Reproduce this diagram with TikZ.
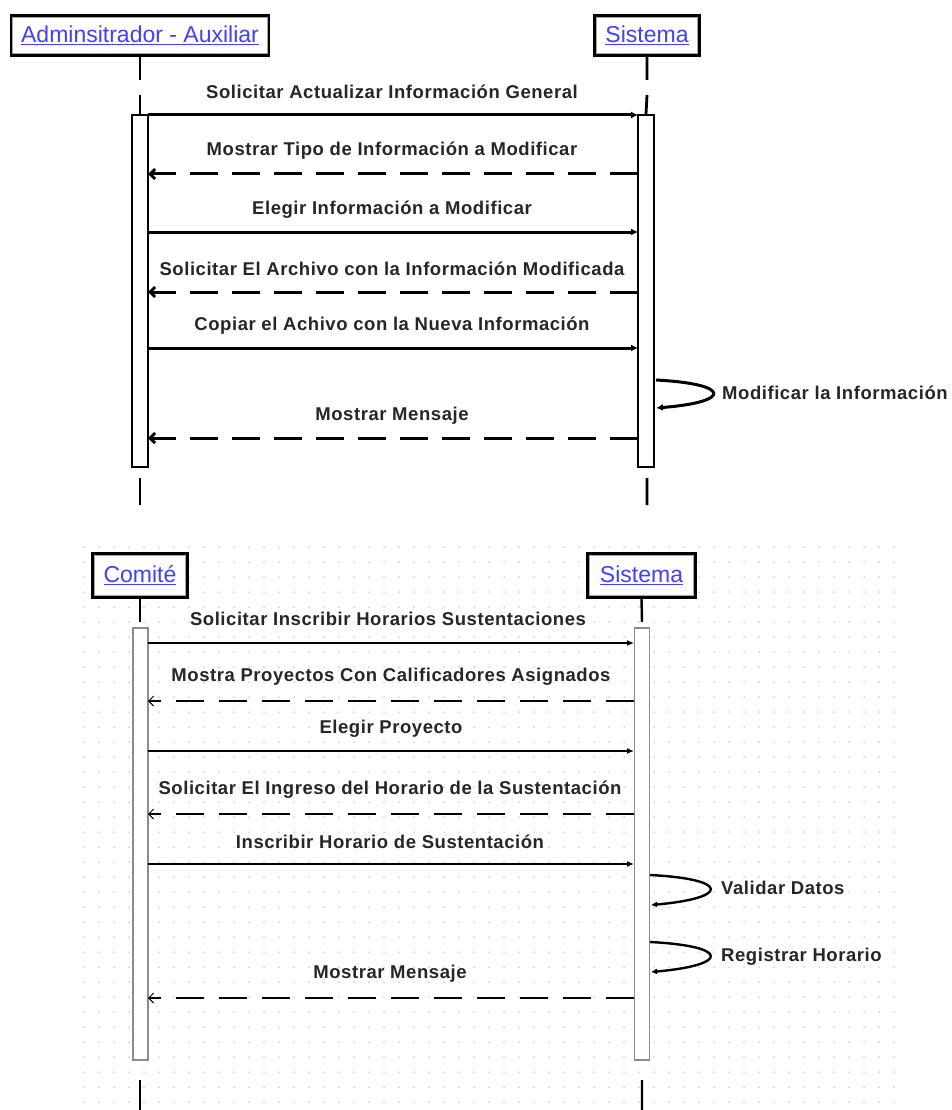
\documentclass[tikz,border=0pt]{standalone}
\usepackage{fontspec}
\setmainfont{Liberation Sans}
\newfontfamily\lblfont[LetterSpace=3]{Liberation Sans}
\usetikzlibrary{arrows.meta}

\begin{document}
\begin{tikzpicture}[x=1pt,y=-1pt,
  actor/.style={draw=black, line width=2.8pt, fill=white, inner sep=0pt,
    font=\fontsize{23}{26}\selectfont, text=blue!75!white},
  innerframe/.style={draw=black!35, line width=1pt},
  actbar/.style={draw=black, line width=1.8pt, fill=white, inner sep=0pt, minimum width=16pt},
  actbarlight/.style={draw=black!45, line width=1.3pt, fill=white, inner sep=0pt, minimum width=15pt},
  msglabel/.style={font=\lblfont\bfseries\fontsize{18.5}{21}\selectfont, text=black!85, inner sep=0pt},
  callA/.style={line width=3pt, -{Latex[length=7pt,width=7pt]}},
  replyA/.style={line width=3pt, dash pattern=on 28pt off 14pt, -{Straight Barb[length=5pt,width=10pt]}},
  callB/.style={line width=1.8pt, -{Latex[length=7pt,width=6pt]}},
  replyB/.style={line width=2.4pt, dash pattern=on 28pt off 15pt, -{Straight Barb[length=5pt,width=10pt,line width=0.9pt]}},
  lifeline/.style={line width=2.8pt},
  selfA/.style={line width=3pt, -{Latex[length=7pt,width=7pt]}},
  selfB/.style={line width=2.4pt, -{Latex[length=6pt,width=6pt]}},
]
\useasboundingbox (0,0) rectangle (951,1110);
\fill[white] (0,0) rectangle (951,1110);

% ---------- dotted grid behind the second diagram ----------
\foreach \i in {0,...,54}{
  \foreach \j in {0,...,37}{
    \fill[black!30] (84+\i*15, 547+\j*15) circle (0.75pt);
  }
}

% ================= first diagram =================
\node[actor, minimum width=258pt, minimum height=40pt] (admin) at (140,35.5) {\underline{Adminsitrador - Auxiliar}};
\node[actor, minimum width=105pt, minimum height=40pt] (sisA) at (647,35.5) {\underline{Sistema}};
\draw[innerframe] ([shift={(3,3)}]admin.north west) rectangle ([shift={(-3,-3)}]admin.south east);
\draw[innerframe] ([shift={(3,3)}]sisA.north west) rectangle ([shift={(-3,-3)}]sisA.south east);

\node[actbar, minimum height=352pt] (barAL) at (140,291) {};
\node[actbar, minimum height=352pt] (barAR) at (646,291) {};

% lifelines
\coordinate (aL1) at (140,80);  \coordinate (aL2) at (140,95);
\coordinate (aL3) at (140,478); \coordinate (aL4) at (140,505);
\coordinate (aR1) at (647,80);  \coordinate (aR2) at (647,95);
\coordinate (aR3) at (647,478); \coordinate (aR4) at (647,505);
\draw[lifeline] (admin.south) -- (aL1) (aL2) -- (barAL.north) (aL3) -- (aL4);
\draw[lifeline] (sisA.south) -- (aR1) (aR2) -- (barAR.north) (aR3) -- (aR4);

% messages
\foreach \n/\yy in {1/115,2/174,3/232,4/292,5/348,7/438}{
  \coordinate (aL\n) at (148,\yy);
  \coordinate (aR\n) at (638,\yy);
}
\draw[callA]  (aL1) -- (aR1);
\draw[replyA] (aR2) -- (aL2);
\draw[callA]  (aL3) -- (aR3);
\draw[replyA] (aR4) -- (aL4);
\draw[callA]  (aL5) -- (aR5);
\draw[replyA] (aR7) -- (aL7);

\node[msglabel] (tA1) at (392,92)  {Solicitar Actualizar Información General};
\node[msglabel] (tA2) at (392,151) {Mostrar Tipo de Información a Modificar};
\node[msglabel] (tA3) at (392,210) {Elegir Información a Modificar};
\node[msglabel] (tA4) at (392,269) {Solicitar El Archivo con la Información Modificada};
\node[msglabel] (tA5) at (392,326) {Copiar el Achivo con la Nueva Información};
\node[msglabel] (tA7) at (392,416) {Mostrar Mensaje};

% self message
\coordinate (aS1) at (656,380);
\coordinate (aS2) at (656,408);
\draw[selfA] (aS1) .. controls (732,384) and (732,402) .. (aS2);
\node[msglabel, anchor=west] (tA6) at (722,393) {Modificar la Información};

% ================= second diagram =================
\node[actor, minimum width=95pt, minimum height=44pt] (comite) at (140,575.5) {\underline{Comité}};
\node[actor, minimum width=108pt, minimum height=44pt] (sisB) at (641.5,575.5) {\underline{Sistema}};
\draw[innerframe] ([shift={(3,3)}]comite.north west) rectangle ([shift={(-3,-3)}]comite.south east);
\draw[innerframe] ([shift={(3,3)}]sisB.north west) rectangle ([shift={(-3,-3)}]sisB.south east);

\node[actbarlight, minimum height=432pt] (barBL) at (140.5,844) {};
\node[actbarlight, minimum height=432pt] (barBR) at (642,844) {};

\coordinate (bL1) at (140,622);  \coordinate (bL3) at (140,1080); \coordinate (bL4) at (140,1110);
\coordinate (bR1) at (642,622);  \coordinate (bR3) at (642,1080); \coordinate (bR4) at (642,1110);
\draw[lifeline, line width=2.4pt] (comite.south) -- (bL1) (bL3) -- (bL4);
\draw[lifeline, line width=2.4pt] (sisB.south) -- (bR1) (bR3) -- (bR4);

\foreach \n/\yy in {1/643,2/701,3/751,4/814,5/864,8/998}{
  \coordinate (bL\n m) at (148,\yy);
  \coordinate (bR\n m) at (634,\yy);
}
\draw[callB]  (bL1m) -- (bR1m);
\draw[replyB] (bR2m) -- (bL2m);
\draw[callB]  (bL3m) -- (bR3m);
\draw[replyB] (bR4m) -- (bL4m);
\draw[callB]  (bL5m) -- (bR5m);
\draw[replyB] (bR8m) -- (bL8m);

\node[msglabel] (tB1) at (388,619) {Solicitar Inscribir Horarios Sustentaciones};
\node[msglabel] (tB2) at (391,677) {Mostra Proyectos Con Calificadores Asignados};
\node[msglabel] (tB3) at (391,729) {Elegir Proyecto};
\node[msglabel] (tB4) at (390,790) {Solicitar El Ingreso del Horario de la Sustentación};
\node[msglabel] (tB5) at (390,842) {Inscribir Horario de Sustentación};
\node[msglabel] (tB8) at (390,974) {Mostrar Mensaje};

\coordinate (bS1) at (650,875);
\coordinate (bS2) at (651,905);
\draw[selfB] (bS1) .. controls (730,879) and (730,898) .. (bS2);
\node[msglabel, anchor=west] (tB6) at (721,888) {Validar Datos};

\coordinate (bS3) at (650,942);
\coordinate (bS4) at (651,972);
\draw[selfB] (bS3) .. controls (730,946) and (730,965) .. (bS4);
\node[msglabel, anchor=west] (tB7) at (721,957) {Registrar Horario};
\end{tikzpicture}
\end{document}
